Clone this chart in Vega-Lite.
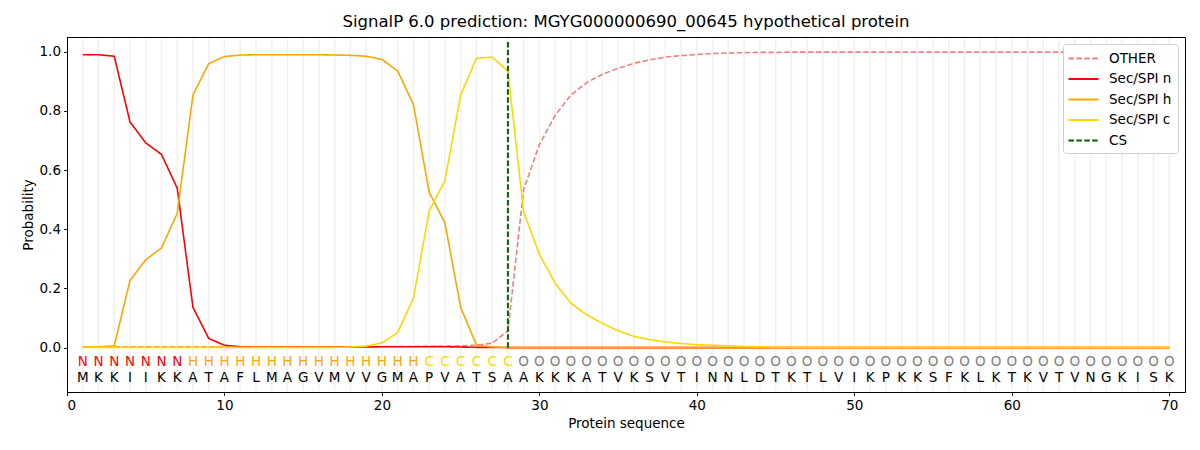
{
  "$schema": "https://vega.github.io/schema/vega-lite/v6.json",
  "width": 1118,
  "height": 355,
  "autosize": "none",
  "padding": {"left": 67, "top": 37, "right": 15, "bottom": 58},
  "background": "white",
  "title": {
    "text": "SignalP 6.0 prediction: MGYG000000690_00645 hypothetical protein",
    "fontSize": 16.5,
    "fontWeight": "normal",
    "font": "DejaVu Sans",
    "color": "black",
    "offset": 7
  },
  "config": {
    "font": "DejaVu Sans",
    "view": {"stroke": "black", "strokeWidth": 1},
    "axis": {
      "domainColor": "black",
      "domainWidth": 1,
      "tickColor": "black",
      "tickWidth": 0.9,
      "tickSize": 3.5,
      "labelFontSize": 13.5,
      "labelColor": "black",
      "labelPadding": 3,
      "titleFontSize": 13.5,
      "titleFontWeight": "normal",
      "titleColor": "black",
      "grid": false,
      "zindex": 1
    }
  },
  "datasets": {
    "res": [
      {"pos": 1, "aa": "M", "lab": "N", "other": 0.003, "n": 0.990, "h": 0.002, "c": 0.001},
      {"pos": 2, "aa": "K", "lab": "N", "other": 0.003, "n": 0.990, "h": 0.003, "c": 0.001},
      {"pos": 3, "aa": "K", "lab": "N", "other": 0.003, "n": 0.985, "h": 0.006, "c": 0.001},
      {"pos": 4, "aa": "I", "lab": "N", "other": 0.003, "n": 0.763, "h": 0.227, "c": 0.001},
      {"pos": 5, "aa": "I", "lab": "N", "other": 0.003, "n": 0.692, "h": 0.297, "c": 0.001},
      {"pos": 6, "aa": "K", "lab": "N", "other": 0.003, "n": 0.653, "h": 0.337, "c": 0.001},
      {"pos": 7, "aa": "K", "lab": "N", "other": 0.003, "n": 0.539, "h": 0.454, "c": 0.001},
      {"pos": 8, "aa": "A", "lab": "H", "other": 0.003, "n": 0.136, "h": 0.854, "c": 0.001},
      {"pos": 9, "aa": "T", "lab": "H", "other": 0.003, "n": 0.031, "h": 0.960, "c": 0.001},
      {"pos": 10, "aa": "A", "lab": "H", "other": 0.003, "n": 0.008, "h": 0.984, "c": 0.001},
      {"pos": 11, "aa": "F", "lab": "H", "other": 0.003, "n": 0.003, "h": 0.989, "c": 0.001},
      {"pos": 12, "aa": "L", "lab": "H", "other": 0.003, "n": 0.002, "h": 0.990, "c": 0.001},
      {"pos": 13, "aa": "M", "lab": "H", "other": 0.003, "n": 0.002, "h": 0.990, "c": 0.001},
      {"pos": 14, "aa": "A", "lab": "H", "other": 0.003, "n": 0.002, "h": 0.990, "c": 0.001},
      {"pos": 15, "aa": "G", "lab": "H", "other": 0.003, "n": 0.002, "h": 0.990, "c": 0.001},
      {"pos": 16, "aa": "V", "lab": "H", "other": 0.003, "n": 0.002, "h": 0.990, "c": 0.001},
      {"pos": 17, "aa": "M", "lab": "H", "other": 0.003, "n": 0.002, "h": 0.989, "c": 0.001},
      {"pos": 18, "aa": "V", "lab": "H", "other": 0.003, "n": 0.002, "h": 0.988, "c": 0.002},
      {"pos": 19, "aa": "V", "lab": "H", "other": 0.003, "n": 0.002, "h": 0.985, "c": 0.005},
      {"pos": 20, "aa": "G", "lab": "H", "other": 0.003, "n": 0.003, "h": 0.974, "c": 0.016},
      {"pos": 21, "aa": "M", "lab": "H", "other": 0.004, "n": 0.003, "h": 0.935, "c": 0.051},
      {"pos": 22, "aa": "A", "lab": "H", "other": 0.004, "n": 0.003, "h": 0.822, "c": 0.167},
      {"pos": 23, "aa": "P", "lab": "C", "other": 0.005, "n": 0.003, "h": 0.525, "c": 0.461},
      {"pos": 24, "aa": "V", "lab": "C", "other": 0.005, "n": 0.003, "h": 0.422, "c": 0.565},
      {"pos": 25, "aa": "A", "lab": "C", "other": 0.006, "n": 0.002, "h": 0.136, "c": 0.854},
      {"pos": 26, "aa": "T", "lab": "C", "other": 0.008, "n": 0.001, "h": 0.009, "c": 0.978},
      {"pos": 27, "aa": "S", "lab": "C", "other": 0.015, "n": 0.001, "h": 0.002, "c": 0.982},
      {"pos": 28, "aa": "A", "lab": "C", "other": 0.057, "n": 0.000, "h": 0.001, "c": 0.935},
      {"pos": 29, "aa": "A", "lab": "O", "other": 0.535, "n": 0.000, "h": 0.000, "c": 0.459},
      {"pos": 30, "aa": "K", "lab": "O", "other": 0.686, "n": 0.000, "h": 0.000, "c": 0.315},
      {"pos": 31, "aa": "K", "lab": "O", "other": 0.785, "n": 0.000, "h": 0.000, "c": 0.218},
      {"pos": 32, "aa": "K", "lab": "O", "other": 0.854, "n": 0.000, "h": 0.000, "c": 0.150},
      {"pos": 33, "aa": "A", "lab": "O", "other": 0.896, "n": 0.000, "h": 0.000, "c": 0.111},
      {"pos": 34, "aa": "T", "lab": "O", "other": 0.924, "n": 0.000, "h": 0.000, "c": 0.082},
      {"pos": 35, "aa": "V", "lab": "O", "other": 0.944, "n": 0.000, "h": 0.000, "c": 0.057},
      {"pos": 36, "aa": "K", "lab": "O", "other": 0.961, "n": 0.000, "h": 0.000, "c": 0.038},
      {"pos": 37, "aa": "S", "lab": "O", "other": 0.973, "n": 0.000, "h": 0.000, "c": 0.027},
      {"pos": 38, "aa": "V", "lab": "O", "other": 0.982, "n": 0.000, "h": 0.000, "c": 0.019},
      {"pos": 39, "aa": "T", "lab": "O", "other": 0.987, "n": 0.000, "h": 0.000, "c": 0.014},
      {"pos": 40, "aa": "I", "lab": "O", "other": 0.991, "n": 0.000, "h": 0.000, "c": 0.010},
      {"pos": 41, "aa": "N", "lab": "O", "other": 0.994, "n": 0.000, "h": 0.000, "c": 0.008},
      {"pos": 42, "aa": "N", "lab": "O", "other": 0.996, "n": 0.000, "h": 0.000, "c": 0.006},
      {"pos": 43, "aa": "L", "lab": "O", "other": 0.997, "n": 0.000, "h": 0.000, "c": 0.004},
      {"pos": 44, "aa": "D", "lab": "O", "other": 0.998, "n": 0.000, "h": 0.000, "c": 0.003},
      {"pos": 45, "aa": "T", "lab": "O", "other": 0.998, "n": 0.000, "h": 0.000, "c": 0.002},
      {"pos": 46, "aa": "K", "lab": "O", "other": 0.999, "n": 0.000, "h": 0.000, "c": 0.001},
      {"pos": 47, "aa": "T", "lab": "O", "other": 0.999, "n": 0.000, "h": 0.000, "c": 0.001},
      {"pos": 48, "aa": "L", "lab": "O", "other": 0.999, "n": 0.000, "h": 0.000, "c": 0.001},
      {"pos": 49, "aa": "V", "lab": "O", "other": 0.999, "n": 0.000, "h": 0.000, "c": 0.001},
      {"pos": 50, "aa": "I", "lab": "O", "other": 0.999, "n": 0.000, "h": 0.000, "c": 0.001},
      {"pos": 51, "aa": "K", "lab": "O", "other": 0.999, "n": 0.000, "h": 0.000, "c": 0.001},
      {"pos": 52, "aa": "P", "lab": "O", "other": 0.999, "n": 0.000, "h": 0.000, "c": 0.001},
      {"pos": 53, "aa": "K", "lab": "O", "other": 0.999, "n": 0.000, "h": 0.000, "c": 0.001},
      {"pos": 54, "aa": "K", "lab": "O", "other": 0.999, "n": 0.000, "h": 0.000, "c": 0.001},
      {"pos": 55, "aa": "S", "lab": "O", "other": 0.999, "n": 0.000, "h": 0.000, "c": 0.001},
      {"pos": 56, "aa": "F", "lab": "O", "other": 0.999, "n": 0.000, "h": 0.000, "c": 0.001},
      {"pos": 57, "aa": "K", "lab": "O", "other": 0.999, "n": 0.000, "h": 0.000, "c": 0.001},
      {"pos": 58, "aa": "L", "lab": "O", "other": 0.999, "n": 0.000, "h": 0.000, "c": 0.001},
      {"pos": 59, "aa": "K", "lab": "O", "other": 0.999, "n": 0.000, "h": 0.000, "c": 0.001},
      {"pos": 60, "aa": "T", "lab": "O", "other": 0.999, "n": 0.000, "h": 0.000, "c": 0.001},
      {"pos": 61, "aa": "K", "lab": "O", "other": 0.999, "n": 0.000, "h": 0.000, "c": 0.001},
      {"pos": 62, "aa": "V", "lab": "O", "other": 0.999, "n": 0.000, "h": 0.000, "c": 0.001},
      {"pos": 63, "aa": "T", "lab": "O", "other": 0.999, "n": 0.000, "h": 0.000, "c": 0.001},
      {"pos": 64, "aa": "V", "lab": "O", "other": 0.999, "n": 0.000, "h": 0.000, "c": 0.001},
      {"pos": 65, "aa": "N", "lab": "O", "other": 0.999, "n": 0.000, "h": 0.000, "c": 0.001},
      {"pos": 66, "aa": "G", "lab": "O", "other": 0.999, "n": 0.000, "h": 0.000, "c": 0.001},
      {"pos": 67, "aa": "K", "lab": "O", "other": 0.999, "n": 0.000, "h": 0.000, "c": 0.001},
      {"pos": 68, "aa": "I", "lab": "O", "other": 0.999, "n": 0.000, "h": 0.000, "c": 0.001},
      {"pos": 69, "aa": "S", "lab": "O", "other": 0.999, "n": 0.000, "h": 0.000, "c": 0.001},
      {"pos": 70, "aa": "K", "lab": "O", "other": 0.999, "n": 0.000, "h": 0.000, "c": 0.001}
    ]
  },
  "layer": [
    {
      "data": {"name": "res"},
      "mark": {"type": "rule", "color": "#f0f0f0", "strokeWidth": 1.5},
      "encoding": {
        "x": {"field": "pos", "type": "quantitative", "title": "Protein sequence",
              "scale": {"domain": [0, 71], "nice": false, "zero": false},
              "axis": {"values": [0, 10, 20, 30, 40, 50, 60, 70]}},
        "y": {"datum": 1.045, "type": "quantitative", "title": "Probability",
              "scale": {"domain": [-0.15, 1.05], "nice": false, "zero": false}},
        "y2": {"datum": -0.145}
      }
    },
    {
      "data": {"name": "res"},
      "transform": [
        {"fold": ["other", "n", "h", "c"], "as": ["series", "prob"]}
      ],
      "mark": {"type": "line", "strokeWidth": 1.6, "clip": true},
      "encoding": {
        "x": {"field": "pos", "type": "quantitative", "title": "Protein sequence",
              "scale": {"domain": [0, 71], "nice": false, "zero": false},
              "axis": {"values": [0, 10, 20, 30, 40, 50, 60, 70]}},
        "y": {"field": "prob", "type": "quantitative", "title": "Probability",
              "scale": {"domain": [-0.15, 1.05], "nice": false, "zero": false},
              "axis": {"values": [0, 0.2, 0.4, 0.6, 0.8, 1.0], "format": ".1f"}},
        "color": {
          "field": "series", "type": "nominal",
          "scale": {"domain": ["other", "n", "h", "c", "CS"],
                    "range": ["#f08080", "#ff0000", "#ffa500", "#ffd700", "#006400"]},
          "legend": {
            "title": null,
            "orient": "top-right",
            "offset": 7,
            "fillColor": "white",
            "strokeColor": "#d0d0d0",
            "cornerRadius": 3,
            "padding": 6,
            "labelFontSize": 13.5,
            "labelColor": "black",
            "symbolType": "M-2,0L2,0",
            "symbolSize": 225,
            "symbolStrokeWidth": 2,
            "symbolOffset": 6,
            "rowPadding": 5.5,
            "labelOffset": 17,
            "labelExpr": "{'other': 'OTHER', 'n': 'Sec/SPI n', 'h': 'Sec/SPI h', 'c': 'Sec/SPI c', 'CS': 'CS'}[datum.label]"
          }
        },
        "strokeDash": {
          "field": "series", "type": "nominal",
          "scale": {"domain": ["other", "n", "h", "c", "CS"],
                    "range": [[5.5, 2.4], [1, 0], [1, 0], [1, 0], [5.5, 2.4]]},
          "legend": null
        }
      }
    },
    {
      "data": {"values": [
        {"pos": 28, "prob": 0, "series": "CS"},
        {"pos": 28, "prob": 1.035, "series": "CS"}
      ]},
      "mark": {"type": "line", "strokeWidth": 2},
      "encoding": {
        "x": {"field": "pos", "type": "quantitative", "title": "Protein sequence",
              "scale": {"domain": [0, 71], "nice": false, "zero": false},
              "axis": {"values": [0, 10, 20, 30, 40, 50, 60, 70]}},
        "y": {"field": "prob", "type": "quantitative", "title": "Probability",
              "scale": {"domain": [-0.15, 1.05], "nice": false, "zero": false},
              "axis": {"values": [0, 0.2, 0.4, 0.6, 0.8, 1.0], "format": ".1f"}},
        "color": {"field": "series", "type": "nominal"},
        "strokeDash": {"field": "series", "type": "nominal"}
      }
    },
    {
      "data": {"name": "res"},
      "mark": {"type": "text", "fontSize": 13.5, "baseline": "middle", "align": "center"},
      "encoding": {
        "x": {"field": "pos", "type": "quantitative", "title": "Protein sequence"},
        "y": {"datum": -0.047, "type": "quantitative", "title": "Probability"},
        "text": {"field": "lab", "type": "nominal"},
        "color": {
          "condition": [
            {"test": "datum.lab === 'N'", "value": "#ff0000"},
            {"test": "datum.lab === 'H'", "value": "#ffa500"},
            {"test": "datum.lab === 'C'", "value": "#ffd700"}
          ],
          "value": "#808080"
        }
      }
    },
    {
      "data": {"name": "res"},
      "mark": {"type": "text", "fontSize": 13.5, "baseline": "middle", "align": "center", "color": "black"},
      "encoding": {
        "x": {"field": "pos", "type": "quantitative", "title": "Protein sequence"},
        "y": {"datum": -0.102, "type": "quantitative", "title": "Probability"},
        "text": {"field": "aa", "type": "nominal"}
      }
    }
  ]
}
